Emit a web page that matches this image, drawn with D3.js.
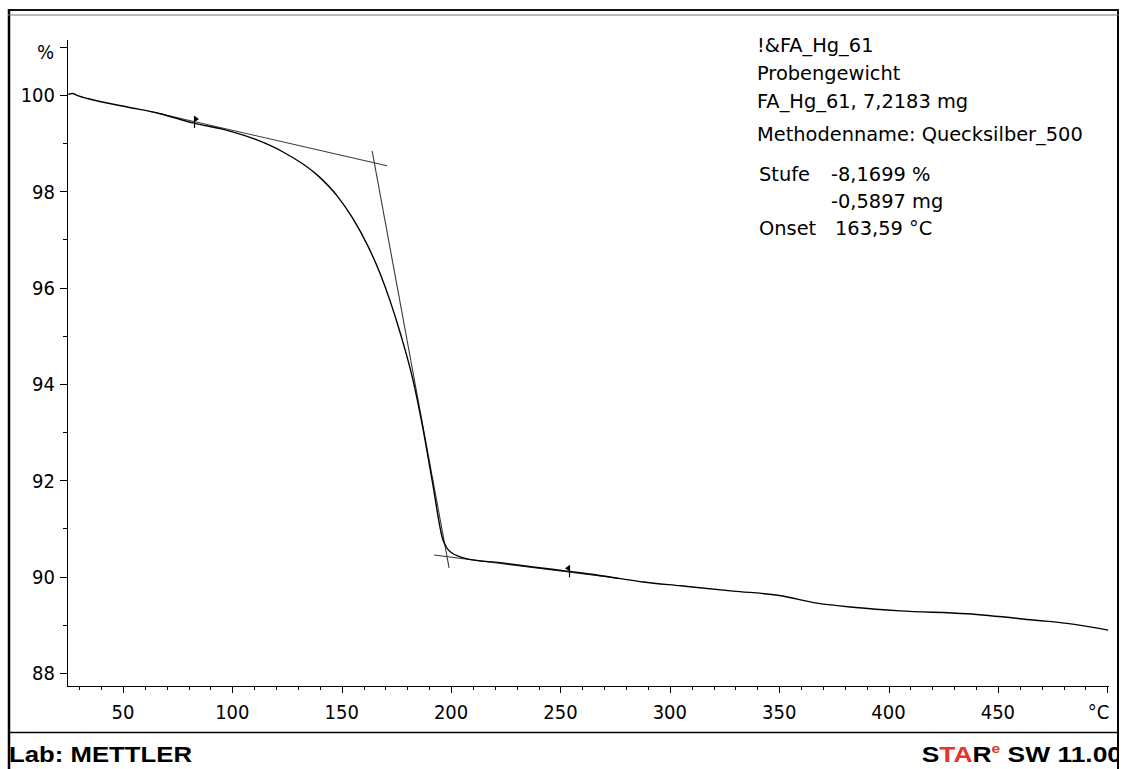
<!DOCTYPE html>
<html>
<head>
<meta charset="utf-8">
<script src="https://cdn.jsdelivr.net/npm/d3@7"></script>
<style>
  html, body { margin: 0; padding: 0; background: #fff; }
  svg { display: block; }
  .tx { font-family: "DejaVu Sans Condensed", "DejaVu Sans", sans-serif; font-stretch: condensed; fill: #000; }
  .info { font-family: "DejaVu Sans", sans-serif; font-stretch: normal; fill: #000; }
  .ft { font-family: "Liberation Sans", Arial, sans-serif; font-weight: bold; }
</style>
</head>
<body>
<svg id="chart" width="1128" height="769"></svg>
<script>
// ---- data ----
const temperature = [25, 27, 29, 36, 52, 67, 82, 98, 111, 123, 139, 148, 155, 162, 167.5, 172, 177, 182.6, 187, 191.3, 196.3, 198, 200.4, 203, 207.3, 222.4, 237.5, 253.9, 266, 277.3, 287.8, 305, 329, 350, 367.3, 385, 405.3, 435.9, 466.1, 485, 500.4];
const massPercent = [100.01, 100.03, 99.99, 99.90, 99.75, 99.61, 99.42, 99.26, 99.07, 98.82, 98.33, 97.90, 97.44, 96.86, 96.30, 95.74, 95.02, 94.08, 93.11, 92.01, 90.76, 90.60, 90.49, 90.43, 90.37, 90.29, 90.20, 90.11, 90.04, 89.96, 89.89, 89.81, 89.70, 89.61, 89.45, 89.36, 89.29, 89.23, 89.10, 89.01, 88.89];

// tangent lines [T, %]
const tangentBefore = [[62, 99.66], [170.7, 98.53]];
const tangentStep   = [[163.9, 98.84], [199.1, 90.18]];
const tangentAfter  = [[192.2, 90.45], [277.3, 89.96]];

// evaluation limit markers: [T, %, direction]
const limitMarkers = [[82.5, 99.44, 1], [254, 90.11, -1]];

const yMajorTicks = [88, 90, 92, 94, 96, 98, 100];
const yMinorTicks = [89, 91, 93, 95, 97, 99];
const yUnitTick = 101;
const xMajorTicks = [50, 100, 150, 200, 250, 300, 350, 400, 450];
const xMinorTicks = d3.range(30, 500, 10).filter(v => v % 50 !== 0);
const xUnitTick = 500;

const infoLines = ["!&FA_Hg_61", "Probengewicht", "FA_Hg_61, 7,2183 mg", "Methodenname: Quecksilber_500"];
const resultLabels = ["Stufe", "", "Onset"];
const resultValues = ["-8,1699 %", "-0,5897 mg", "163,59 \u00B0C"];

// ---- drawing ----
const svg = d3.select("#chart");
const x = d3.scaleLinear().domain([24.4, 500.8]).range([67, 1109]);
const y = d3.scaleLinear().domain([87.73, 101.14]).range([686, 40]);

svg.append("defs").append("clipPath").attr("id", "frameClip")
  .append("rect").attr("x", 0).attr("y", 0).attr("width", 1118).attr("height", 769);

svg.append("rect").attr("x", 0).attr("y", 0).attr("width", 1128).attr("height", 769).attr("fill", "#fff");

// axes lines
svg.append("line").attr("x1", 67.5).attr("x2", 67.5).attr("y1", y.range()[1]).attr("y2", 686).attr("stroke", "#000");
svg.append("line").attr("x1", 67).attr("x2", 1109).attr("y1", 686.5).attr("y2", 686.5).attr("stroke", "#000");

// y ticks
const gy = svg.append("g");
gy.selectAll("line.maj").data(yMajorTicks.concat([yUnitTick])).join("line")
  .attr("x1", 60).attr("x2", 67).attr("y1", d => Math.round(y(d)) + 0.5).attr("y2", d => Math.round(y(d)) + 0.5).attr("stroke", "#000");
gy.selectAll("line.min").data(yMinorTicks).join("line")
  .attr("x1", 63).attr("x2", 67).attr("y1", d => Math.round(y(d)) + 0.5).attr("y2", d => Math.round(y(d)) + 0.5).attr("stroke", "#000");
gy.selectAll("text").data(yMajorTicks).join("text").attr("class", "tx")
  .attr("x", 55).attr("y", d => y(d) + 7.5).attr("text-anchor", "end").attr("font-size", 20).text(d => d);
gy.append("text").attr("class", "tx").attr("x", 54).attr("y", y(yUnitTick) + 12).attr("text-anchor", "end").attr("font-size", 20).text("%");

// x ticks
const gx = svg.append("g");
gx.selectAll("line.maj").data(xMajorTicks.concat([xUnitTick])).join("line")
  .attr("x1", d => Math.round(x(d)) + 0.5).attr("x2", d => Math.round(x(d)) + 0.5).attr("y1", 686).attr("y2", 693).attr("stroke", "#000");
gx.selectAll("line.min").data(xMinorTicks).join("line")
  .attr("x1", d => Math.round(x(d)) + 0.5).attr("x2", d => Math.round(x(d)) + 0.5).attr("y1", 686).attr("y2", 690).attr("stroke", "#000");
gx.selectAll("text").data(xMajorTicks).join("text").attr("class", "tx")
  .attr("x", d => x(d)).attr("y", 719).attr("text-anchor", "middle").attr("font-size", 20).text(d => d);
gx.append("text").attr("class", "tx").attr("x", x(xUnitTick) + 2).attr("y", 719).attr("text-anchor", "end").attr("font-size", 20).text("\u00B0C");

// tangents
const lineGen = d3.line().x(d => x(d[0])).y(d => y(d[1]));
[tangentBefore, tangentStep, tangentAfter].forEach(t => {
  svg.append("path").attr("d", lineGen(t)).attr("fill", "none").attr("stroke", "#3a3a3a").attr("stroke-width", 1.1);
});

// curve
const curveData = temperature.map((t, i) => [t, massPercent[i]]);
svg.append("path").attr("d", d3.line().x(d => x(d[0])).y(d => y(d[1])).curve(d3.curveMonotoneX)(curveData))
  .attr("fill", "none").attr("stroke", "#000").attr("stroke-width", 1.4);

// limit markers
limitMarkers.forEach(([t, v, dir]) => {
  const px = Math.round(x(t)) + 0.5, py = y(v);
  svg.append("line").attr("x1", px).attr("x2", px).attr("y1", py - 6).attr("y2", py + 6).attr("stroke", "#000").attr("stroke-width", 1.2);
  svg.append("path").attr("d", `M${px},${py - 6} L${px + dir * 4.5},${py - 3} L${px},${py} Z`).attr("fill", "#000");
});

// info text
const infoY = [52, 80, 108, 141];
svg.selectAll("text.infoL").data(infoLines).join("text").attr("class", "info infoL")
  .attr("x", 757).attr("y", (d, i) => infoY[i]).attr("font-size", 19.4).text(d => d);
const resY = [181, 208, 235];
svg.selectAll("text.rl").data(resultLabels).join("text").attr("class", "info rl")
  .attr("x", 759).attr("y", (d, i) => resY[i]).attr("font-size", 19.4).text(d => d);
svg.selectAll("text.rv").data(resultValues).join("text").attr("class", "info rv")
  .attr("x", (d, i) => i === 2 ? 835 : 831).attr("y", (d, i) => resY[i]).attr("font-size", 19.4).text(d => d);

// footer
svg.append("text").attr("class", "ft").attr("transform", "translate(9,762) scale(1.17,1)")
  .attr("font-size", 22).attr("fill", "#000").text("Lab: METTLER");
const star = svg.append("g").attr("clip-path", "url(#frameClip)")
  .append("text").attr("class", "ft").attr("transform", "translate(1122,762) scale(1.2,1)")
  .attr("font-size", 22).attr("text-anchor", "end");
star.append("tspan").attr("fill", "#000").text("S");
star.append("tspan").attr("fill", "#e8322a").text("TA");
star.append("tspan").attr("fill", "#000").text("R");
star.append("tspan").attr("fill", "#e8322a").attr("font-size", 13).attr("dy", -9).text("e");
star.append("tspan").attr("fill", "#000").attr("dy", 9).text(" SW 11.00");

// frame lines on top
svg.append("line").attr("x1", 9).attr("x2", 9).attr("y1", 9).attr("y2", 769).attr("stroke", "#000").attr("stroke-width", 2.5);
svg.append("line").attr("x1", 1118).attr("x2", 1118).attr("y1", 9).attr("y2", 769).attr("stroke", "#000").attr("stroke-width", 2);
svg.append("line").attr("x1", 8).attr("x2", 1119).attr("y1", 10).attr("y2", 10).attr("stroke", "#111").attr("stroke-width", 2);
svg.append("line").attr("x1", 8).attr("x2", 1119).attr("y1", 15).attr("y2", 15).attr("stroke", "#777").attr("stroke-width", 1.2);
svg.append("line").attr("x1", 8).attr("x2", 1119).attr("y1", 732.5).attr("y2", 732.5).attr("stroke", "#000").attr("stroke-width", 1.5);
</script>
</body>
</html>
